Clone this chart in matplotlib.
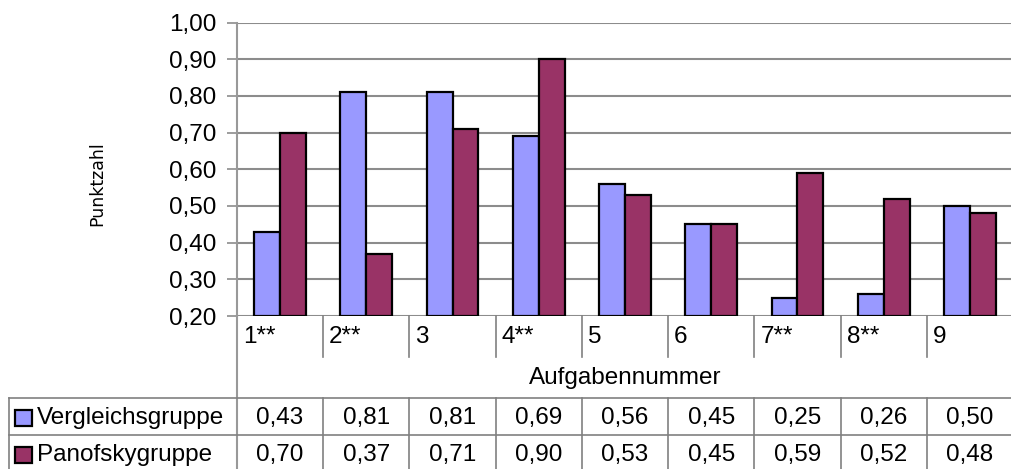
import matplotlib
matplotlib.use("Agg")
import matplotlib.pyplot as plt
from matplotlib.patches import Rectangle
import numpy as np

categories = ["1**", "2**", "3", "4**", "5", "6", "7**", "8**", "9"]
series_names = ["Vergleichsgruppe", "Panofskygruppe"]
vergleich = [0.43, 0.81, 0.81, 0.69, 0.56, 0.45, 0.25, 0.26, 0.50]
panofsky = [0.70, 0.37, 0.71, 0.90, 0.53, 0.45, 0.59, 0.52, 0.48]
yticks = [0.2, 0.3, 0.4, 0.5, 0.6, 0.7, 0.8, 0.9, 1.0]
colors = ["#9999FF", "#993366"]

plt.rcParams['font.family'] = ['Liberation Sans', 'DejaVu Sans']

W, H = 1011, 469
fig = plt.figure(figsize=(W / 100, H / 100), dpi=100)

def px_rect(x0, y0, x1, y1):
    return [x0 / W, 1 - y1 / H, (x1 - x0) / W, (y1 - y0) / H]

gray = "#8c8c8c"
x_left, x_right = 237, 1013
y_top, y_bot = 22.6, 316
colw = (x_right - x_left) / 9.0
fs = 17.5

ax = fig.add_axes(px_rect(x_left, y_top, x_right, y_bot))
x = np.arange(1, len(categories) + 1)
bw = 0.30
ax.bar(x - bw / 2, np.array(vergleich) - 0.2, bw, bottom=0.2, color=colors[0],
       edgecolor="black", linewidth=1.6, zorder=3)
ax.bar(x + bw / 2, np.array(panofsky) - 0.2, bw, bottom=0.2, color=colors[1],
       edgecolor="black", linewidth=1.6, zorder=3)
ax.set_xlim(0.5, 9.5)
ax.set_ylim(0.2, 1.0)
ax.set_yticks(yticks)
ax.set_yticklabels([f"{v:.2f}".replace(".", ",") for v in yticks], fontsize=fs)
ax.tick_params(axis="y", length=7, width=1.2, color=gray, pad=8)
ax.set_xticks([])
ax.grid(axis="y", color=gray, linewidth=1.5, zorder=0)
for s in ["top", "right", "bottom"]:
    ax.spines[s].set_visible(False)
ax.spines["left"].set_color("#999999")
ax.spines["left"].set_linewidth(1.5)

fig.text(97 / W, 1 - 184 / H, "Punktzahl", rotation=90, ha="center", va="center",
         fontsize=12.5, family="DejaVu Sans")

# table area
tab_h = H - y_bot
tx = fig.add_axes(px_rect(x_left, y_bot, x_right, H))
tx.set_xlim(0.5, 9.5)
tx.set_ylim(tab_h, 0)
tx.axis("off")

def dx(px):
    return 0.5 + (px - x_left) / colw

lc = "#808080"
lw = 1.2
tx.plot([0.5, 0.5], [0, tab_h], color="#999999", lw=1.5, clip_on=False)
for i in range(1, 10):
    tx.plot([i + 0.5, i + 0.5], [0, 41], color=lc, lw=lw, clip_on=False)
for i, c in enumerate(categories):
    tx.text(i + 0.5 + 6 / colw, 21, c, ha="left", va="center", fontsize=fs)
tx.text(5, 62, "Aufgabennummer", ha="center", va="center", fontsize=fs)

row_top, row_mid = 398 - y_bot, 435 - y_bot
tab_left = dx(9)
for yy in [row_top, row_mid]:
    tx.plot([tab_left, 9.5], [yy, yy], color=lc, lw=lw, clip_on=False)
tx.plot([tab_left, tab_left], [row_top, tab_h], color=lc, lw=lw, clip_on=False)
for i in range(1, 10):
    tx.plot([i + 0.5, i + 0.5], [row_top, tab_h], color=lc, lw=lw, clip_on=False)

rows = [vergleich, panofsky]
row_y = [418 - y_bot, 455 - y_bot]
for r, (vals, name, col, yy) in enumerate(zip(rows, series_names, colors, row_y)):
    tx.add_patch(Rectangle((dx(15), yy - 8), 17 / colw, 16, facecolor=col,
                           edgecolor="black", linewidth=1.6, clip_on=False))
    tx.text(dx(37), yy, name, ha="left", va="center", fontsize=fs)
    for i, v in enumerate(vals):
        tx.text(i + 1, yy, f"{v:.2f}".replace(".", ","), ha="center", va="center",
                fontsize=fs)

fig.savefig("out.png", dpi=100)
